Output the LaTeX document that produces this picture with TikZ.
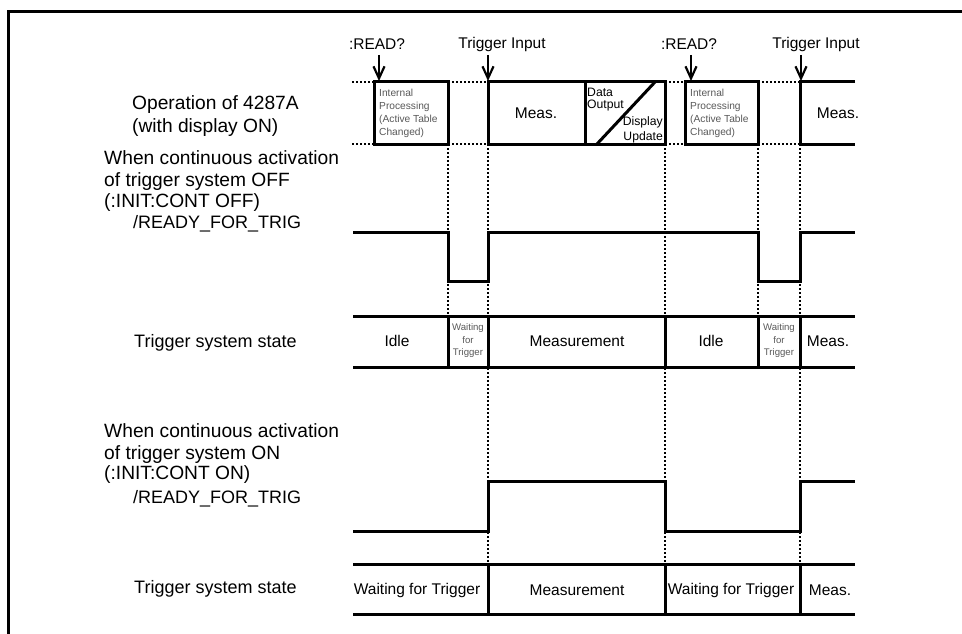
\documentclass[tikz,border=0pt]{standalone}
\usepackage{fontspec}
\setmainfont{Liberation Sans}
\usetikzlibrary{arrows.meta}
\begin{document}
\begin{tikzpicture}[x=1pt,y=-1pt,
  sig/.style={line width=3pt,line join=miter},
  dotline/.style={line width=1.9pt,dash pattern=on 1.9pt off 2.1pt},
  frame/.style={line width=3pt},
  lbl/.style={font=\fontsize{19.2}{22}\selectfont,anchor=base west,inner sep=0pt},
  lbls/.style={font=\fontsize{18}{21}\selectfont,anchor=base west,inner sep=0pt},
  dlbl/.style={font=\fontsize{15.5}{18}\selectfont,inner sep=0pt},
  tiny/.style={font=\fontsize{10.2}{12}\selectfont,text=black!65,inner sep=0pt},
  smallw/.style={font=\fontsize{9.6}{12.5}\selectfont,text=black!65,inner sep=0pt,align=center},
  dout/.style={font=\fontsize{12.2}{14}\selectfont,inner sep=0pt},
  trigarrow/.style={line width=2.2pt,-{Straight Barb[length=12pt,width=11pt,line width=2.2pt]}}
]
\useasboundingbox (0,0) rectangle (962,634);
\fill[white] (0,0) rectangle (962,634);
% frame
\draw[frame] (8,640) -- (8,12) -- (970,12);

% ---------- left labels ----------
\node[lbl] (op1) at (132,110) {Operation of 4287A};
\node[lbl] (op2) at (132,132) {(with display ON)};
\node[lbl] (w1) at (104,164) {When continuous activation};
\node[lbl] (w2) at (104,186) {of trigger system OFF};
\node[lbl] (w3) at (104,207.5) {(:INIT:CONT OFF)};
\node[lbls] (r1) at (133,228) {/READY\_FOR\_TRIG};
\node[lbls] (t1) at (134,347.5) {Trigger system state};
\node[lbl] (v1) at (104,437.5) {When continuous activation};
\node[lbl] (v2) at (104,459.5) {of trigger system ON};
\node[lbl] (v3) at (104,479) {(:INIT:CONT ON)};
\node[lbls] (r2) at (133,503.5) {/READY\_FOR\_TRIG};
\node[lbls] (t2) at (134,593.5) {Trigger system state};

% ---------- dotted guide lines ----------
\draw[dotline] (352,82) -- (374,82) (448,82) -- (488,82) (665,82) -- (685,82) (758,82) -- (800,82);
\draw[dotline] (352,144) -- (374,144) (448,144) -- (488,144) (665,144) -- (685,144) (758,144) -- (800,144);
\draw[dotline] (448,144) -- (448,316);
\draw[dotline] (488,144) -- (488,564);
\draw[dotline] (665,144) -- (665,564);
\draw[dotline] (758,144) -- (758,316);
\draw[dotline] (800,144) -- (800,564);

% ---------- top labels and arrows ----------
\node[dlbl] (rd1) at (377,44) {:READ?};
\node[dlbl] (ti1) at (502,44) {Trigger Input};
\node[dlbl] (rd2) at (689,44) {:READ?};
\node[dlbl] (ti2) at (816,44) {Trigger Input};
\coordinate (a1s) at (379,55); \coordinate (a1e) at (379,81);
\coordinate (a2s) at (488,55); \coordinate (a2e) at (488,81);
\coordinate (a3s) at (691,55); \coordinate (a3e) at (691,81);
\coordinate (a4s) at (801,55); \coordinate (a4e) at (801,81);
\draw[trigarrow] (a1s) -- (a1e);
\draw[trigarrow] (a2s) -- (a2e);
\draw[trigarrow] (a3s) -- (a3e);
\draw[trigarrow] (a4s) -- (a4e);

% ---------- operation row ----------
\draw[sig,fill=white] (374,82) rectangle (448,144);
\draw[sig,fill=white] (488,82) rectangle (665,144);
\draw[sig] (585,82) -- (585,144);
\draw[sig] (597,144) -- (655,82);
\draw[sig,fill=white] (685,82) rectangle (758,144);
\draw[sig] (855,82) -- (800,82) -- (800,144) -- (855,144);
\node[tiny,anchor=west] (ip1a) at (379,93) {Internal};
\node[tiny,anchor=west] (ip1b) at (379,106.5) {Processing};
\node[tiny,anchor=west] (ip1c) at (379,120) {(Active Table};
\node[tiny,anchor=west] (ip1d) at (379,133) {Changed)};
\node[tiny,anchor=west] (ip2a) at (690,93) {Internal};
\node[tiny,anchor=west] (ip2b) at (690,106.5) {Processing};
\node[tiny,anchor=west] (ip2c) at (690,120) {(Active Table};
\node[tiny,anchor=west] (ip2d) at (690,133) {Changed)};
\node[dlbl] (m1) at (536,113) {Meas.};
\node[dlbl] (m2) at (838,113) {Meas.};
\node[dout,anchor=west] (do1) at (587,92) {Data};
\node[dout,anchor=west] (do2) at (587,105.5) {Output};
\node[dout,anchor=east] (du1) at (663,122) {Display};
\node[dout,anchor=east] (du2) at (663,137) {Update};

% ---------- OFF: READY_FOR_TRIG ----------
\draw[sig] (353,232) -- (448,232) -- (448,281) -- (488,281) -- (488,232)
  -- (758,232) -- (758,281) -- (800,281) -- (800,232) -- (855,232);

% ---------- OFF: trigger state ----------
\draw[sig] (353,316) -- (855,316);
\draw[sig] (353,367) -- (855,367);
\foreach \xx in {448,488,665,758,800} \draw[sig] (\xx,316) -- (\xx,367);
\node[dlbl] (s1) at (397,341) {Idle};
\node[smallw] (s2) at (468,341) {Waiting\\for\\Trigger};
\node[dlbl] (s3) at (577,341) {Measurement};
\node[dlbl] (s4) at (711,341) {Idle};
\node[smallw] (s5) at (779,341) {Waiting\\for\\Trigger};
\node[dlbl] (s6) at (828,341) {Meas.};

% ---------- ON: READY_FOR_TRIG ----------
\draw[sig] (353,531) -- (488,531) -- (488,481) -- (665,481) -- (665,531)
  -- (800,531) -- (800,481) -- (855,481);

% ---------- ON: trigger state ----------
\draw[sig] (353,564) -- (855,564);
\draw[sig] (353,614) -- (855,614);
\foreach \xx in {488,665,800} \draw[sig] (\xx,564) -- (\xx,614);
\node[dlbl] (u1) at (417,590) {Waiting for Trigger};
\node[dlbl] (u2) at (577,590) {Measurement};
\node[dlbl] (u3) at (731,590) {Waiting for Trigger};
\node[dlbl] (u4) at (830,590) {Meas.};
\end{tikzpicture}
\end{document}
